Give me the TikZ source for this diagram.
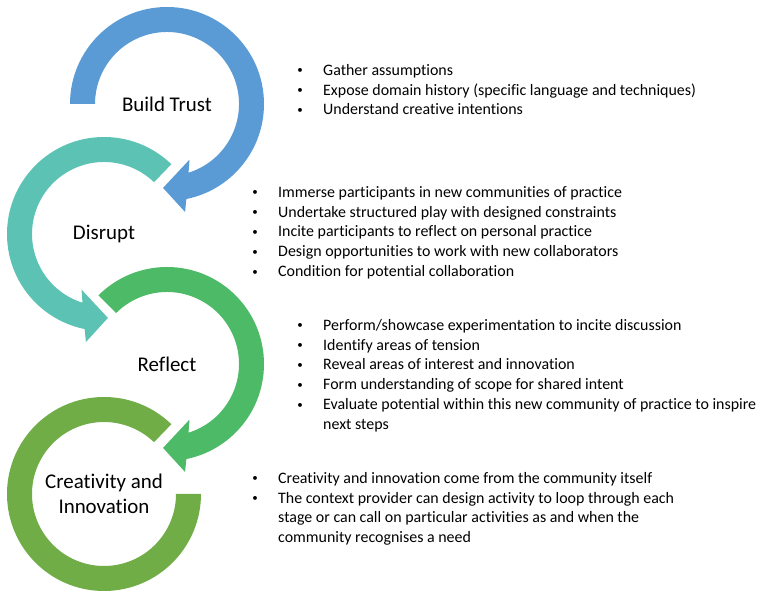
\documentclass[tikz,border=0pt]{standalone}
\usepackage{fontspec}
\setmainfont{Carlito}[Ligatures=NoCommon]

\definecolor{trustblue}{HTML}{5B9BD5}
\definecolor{disruptteal}{HTML}{5CC3B4}
\definecolor{reflectgreen}{HTML}{4DBA67}
\definecolor{innovgreen}{HTML}{70AD47}

\newcommand{\bul}{\makebox[0pt]{\raisebox{1.5bp}{\fontsize{11}{11}\selectfont\textbullet}}\hspace{23bp}}
\newcommand{\indentline}{\hspace{23bp}}

\tikzset{
    stage/.style={align=center, font=\fontsize{21}{25}\selectfont},
    notes/.style={anchor=north west, inner sep=0pt, font=\fontsize{16}{20}\selectfont},
}

\begin{document}
\begin{tikzpicture}[x=1bp, y=1bp]

    \useasboundingbox (0,0) rectangle (768,591);

    \coordinate (trust) at (167,487);
    \coordinate (disrupt) at (104,357);
    \coordinate (reflect) at (167,227);
    \coordinate (innov) at (104,97);

    \fill[trustblue, shift={(trust)}] (180:97) arc[start angle=180, end angle=-78.5, radius=97]
        -- (-80.5:109.5) -- (-92.7:84) -- (-68:60) -- (-72.6:72)
        arc[start angle=-72.6, end angle=180, radius=72] -- cycle;
    \fill[disruptteal, shift={(disrupt)}] (46:97) arc[start angle=46, end angle=258.5, radius=97]
        -- (260.5:109.5) -- (272.7:84) -- (248:60) -- (252.6:72)
        arc[start angle=252.6, end angle=46, radius=72] -- cycle;
    \fill[reflectgreen, shift={(reflect)}] (135:97) arc[start angle=135, end angle=-78.5, radius=97]
        -- (-80.5:109.5) -- (-92.7:84) -- (-68:60) -- (-72.6:72)
        arc[start angle=-72.6, end angle=135, radius=72] -- cycle;
    \fill[innovgreen, shift={(innov)}] (46:97) arc[start angle=46, end angle=360, radius=97]
        -- (0:72) arc[start angle=360, end angle=46, radius=72] -- cycle;

    \node[stage] (trustlabel) at (trust) {Build Trust};
    \node[stage] (disruptlabel) at (disrupt) {Disrupt};
    \node[stage] (reflectlabel) at (reflect) {Reflect};
    \node[stage] (innovlabel) at (innov) {Creativity and\\Innovation};

    \node[notes] (trustnotes) at (300,530) {\begin{tabular}{@{}l@{}}
        \bul Gather assumptions\\
        \bul Expose domain history (specific language and techniques)\\
        \bul Understand creative intentions
    \end{tabular}};

    \node[notes] (disruptnotes) at (255,408) {\begin{tabular}{@{}l@{}}
        \bul Immerse participants in new communities of practice\\
        \bul Undertake structured play with designed constraints\\
        \bul Incite participants to reflect on personal practice\\
        \bul Design opportunities to work with new collaborators\\
        \bul Condition for potential collaboration
    \end{tabular}};

    \node[notes] (reflectnotes) at (300,275) {\begin{tabular}{@{}l@{}}
        \bul Perform/showcase experimentation to incite discussion\\
        \bul Identify areas of tension\\
        \bul Reveal areas of interest and innovation\\
        \bul Form understanding of scope for shared intent\\
        \bul Evaluate potential within this new community of practice to inspire\\
        \indentline next steps
    \end{tabular}};

    \node[notes] (innovnotes) at (255,122) {\begin{tabular}{@{}l@{}}
        \bul Creativity and innovation come from the community itself\\
        \bul The context provider can design activity to loop through each\\
        \indentline stage or can call on particular activities as and when the\\
        \indentline community recognises a need
    \end{tabular}};

\end{tikzpicture}
\end{document}
